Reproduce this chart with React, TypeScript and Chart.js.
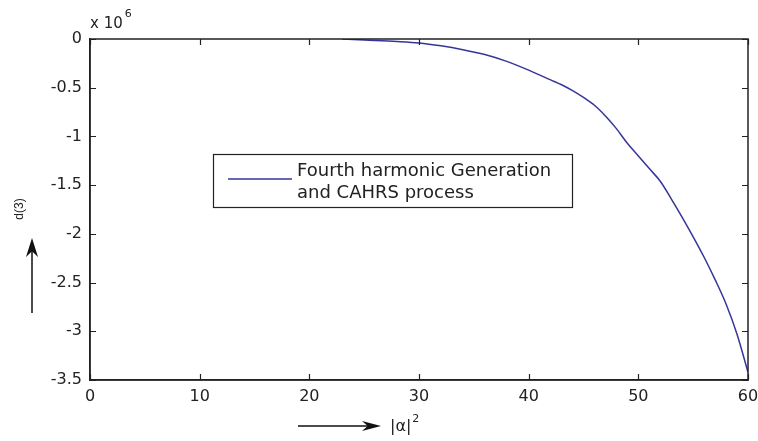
import React, { useEffect, useRef } from "react";
import { Chart, registerables } from "chart.js";

Chart.register(...registerables);

// |alpha|^2 values (x axis)
const alphaSq = [23, 25, 28, 30, 32, 34, 36, 38, 40, 42, 43, 44, 45, 46, 47, 48, 49, 50, 51, 52, 53, 54, 55, 56, 57, 58, 59, 60];
// d(3) values in units of 10^6
const d3Millions = [0, -0.01, -0.025, -0.04, -0.07, -0.11, -0.16, -0.23, -0.32, -0.42, -0.47, -0.53, -0.6, -0.68, -0.79, -0.92, -1.07, -1.2, -1.33, -1.46, -1.64, -1.83, -2.03, -2.24, -2.47, -2.72, -3.03, -3.42];
const seriesLabel = ["Fourth harmonic Generation", "and CAHRS process"];
const xTicks = [0, 10, 20, 30, 40, 50, 60];
const yTicks = [0, -0.5, -1, -1.5, -2, -2.5, -3, -3.5];
const xTitle = "|\u03b1|";
const yTitle = "d(3)";
const exponent = "6";

const LINE_COLOR = "#35359a";
const FONT = "'DejaVu Sans', sans-serif";

function arrowHead(ctx: CanvasRenderingContext2D, tipX: number, tipY: number, dir: "up" | "right", len: number, half: number) {
  ctx.beginPath();
  if (dir === "up") {
    ctx.moveTo(tipX, tipY);
    ctx.lineTo(tipX - half, tipY + len);
    ctx.lineTo(tipX, tipY + len * 0.7);
    ctx.lineTo(tipX + half, tipY + len);
  } else {
    ctx.moveTo(tipX, tipY);
    ctx.lineTo(tipX - len, tipY - half);
    ctx.lineTo(tipX - len * 0.7, tipY);
    ctx.lineTo(tipX - len, tipY + half);
  }
  ctx.closePath();
  ctx.fill();
}

const decor = {
  id: "decor",
  afterDraw(chart: any) {
    const { ctx, chartArea: a, scales } = chart;
    const xs = scales.x;
    const ys = scales.y;
    ctx.save();
    // box frame
    ctx.strokeStyle = "#222";
    ctx.lineWidth = 1.5;
    ctx.strokeRect(a.left, a.top, a.right - a.left, a.bottom - a.top);
    // inward ticks on all four sides
    const tl = 6;
    ctx.lineWidth = 1.2;
    ctx.beginPath();
    xTicks.forEach((v) => {
      const px = Math.round(xs.getPixelForValue(v)) + 0.5;
      ctx.moveTo(px, a.bottom);
      ctx.lineTo(px, a.bottom - tl);
      ctx.moveTo(px, a.top);
      ctx.lineTo(px, a.top + tl);
    });
    yTicks.forEach((v) => {
      const py = Math.round(ys.getPixelForValue(v)) + 0.5;
      ctx.moveTo(a.left, py);
      ctx.lineTo(a.left + tl, py);
      ctx.moveTo(a.right, py);
      ctx.lineTo(a.right - tl, py);
    });
    ctx.stroke();

    // exponent label "x 10^6"
    ctx.fillStyle = "#222";
    ctx.textBaseline = "middle";
    ctx.textAlign = "left";
    ctx.font = `15px ${FONT}`;
    ctx.fillText("x 10", a.left, a.top - 15);
    const w10 = ctx.measureText("x 10").width;
    ctx.font = `11px ${FONT}`;
    ctx.fillText(exponent, a.left + w10 + 2, a.top - 25);

    // y title rotated + arrow
    ctx.save();
    ctx.translate(20, 209);
    ctx.rotate(-Math.PI / 2);
    ctx.font = "12px 'Liberation Sans', sans-serif";
    ctx.textAlign = "center";
    ctx.textBaseline = "middle";
    ctx.fillText(yTitle, 0, 0);
    ctx.restore();
    ctx.strokeStyle = "#111";
    ctx.fillStyle = "#111";
    ctx.lineWidth = 1.5;
    ctx.beginPath();
    ctx.moveTo(32, 313);
    ctx.lineTo(32, 250);
    ctx.stroke();
    arrowHead(ctx, 32, 238, "up", 19, 6);

    // x title arrow + text
    ctx.beginPath();
    ctx.moveTo(298, 426);
    ctx.lineTo(370, 426);
    ctx.stroke();
    arrowHead(ctx, 381, 426, "right", 19, 5);
    ctx.font = `16px ${FONT}`;
    ctx.textAlign = "left";
    ctx.textBaseline = "middle";
    ctx.fillStyle = "#222";
    ctx.fillText(xTitle, 390, 427);
    const wa = ctx.measureText(xTitle).width;
    ctx.font = `11px ${FONT}`;
    ctx.fillText("2", 390 + wa + 1, 419);

    // legend box
    const lx = a.left + 123, ly = a.top + 115, lw = 359, lh = 53;
    ctx.fillStyle = "#fff";
    ctx.fillRect(lx, ly, lw, lh);
    ctx.strokeStyle = "#222";
    ctx.lineWidth = 1.2;
    ctx.strokeRect(lx + 0.5, ly + 0.5, lw, lh);
    const ds = chart.data.datasets[0];
    ctx.strokeStyle = ds.borderColor;
    ctx.lineWidth = 1.5;
    ctx.beginPath();
    ctx.moveTo(lx + 15, ly + 25);
    ctx.lineTo(lx + 79, ly + 25);
    ctx.stroke();
    ctx.fillStyle = "#222";
    ctx.font = `18px ${FONT}`;
    ctx.textBaseline = "middle";
    ctx.fillText(seriesLabel[0], lx + 84, ly + 17);
    ctx.fillText(seriesLabel[1], lx + 84, ly + 39);
    ctx.restore();
  },
};

export default function App() {
  const ref = useRef<HTMLCanvasElement | null>(null);
  useEffect(() => {
    if (!ref.current) return;
    const chart = new Chart(ref.current, {
      type: "line",
      data: {
        datasets: [
          {
            label: seriesLabel.join(" "),
            data: alphaSq.map((x, i) => ({ x, y: d3Millions[i] })),
            borderColor: LINE_COLOR,
            borderWidth: 1.5,
            pointRadius: 0,
            fill: false,
            cubicInterpolationMode: "monotone",
          },
        ],
      },
      options: {
        animation: false,
        responsive: false,
        devicePixelRatio: 1,
        layout: { padding: { top: 39, right: 10, left: 0, bottom: 0 } },
        plugins: { legend: { display: false }, tooltip: { enabled: false } },
        scales: {
          x: {
            type: "linear",
            min: 0,
            max: 60,
            afterFit: (s: any) => {
              s.height = 61;
              s.paddingLeft = 0;
              s.paddingRight = 0;
            },
            afterBuildTicks: (s: any) => {
              s.ticks = xTicks.map((v) => ({ value: v }));
            },
            ticks: {
              color: "#222",
              font: { family: FONT, size: 16 },
              padding: 7,
              maxRotation: 0,
              autoSkip: false,
            },
            grid: { display: true, drawOnChartArea: false, drawTicks: false },
            border: { display: true, color: "#222", width: 1.5 },
          },
          y: {
            type: "linear",
            min: -3.5,
            max: 0,
            afterFit: (s: any) => {
              s.width = 90;
              s.paddingTop = 0;
              s.paddingBottom = 0;
            },
            afterBuildTicks: (s: any) => {
              s.ticks = yTicks.map((v) => ({ value: v }));
            },
            ticks: {
              color: "#222",
              font: { family: FONT, size: 16 },
              padding: 8,
              autoSkip: false,
              callback: (v: any) => String(Number(v)),
            },
            grid: { display: true, drawOnChartArea: false, drawTicks: false },
            border: { display: true, color: "#222", width: 1.5 },
          },
        },
      },
      plugins: [decor],
    });
    return () => chart.destroy();
  }, []);
  return (
    <div style={{ position: "absolute", left: 0, top: 0, width: 758, height: 441, background: "#fff" }}>
      <canvas ref={ref} width={758} height={441} style={{ display: "block" }} />
    </div>
  );
}
